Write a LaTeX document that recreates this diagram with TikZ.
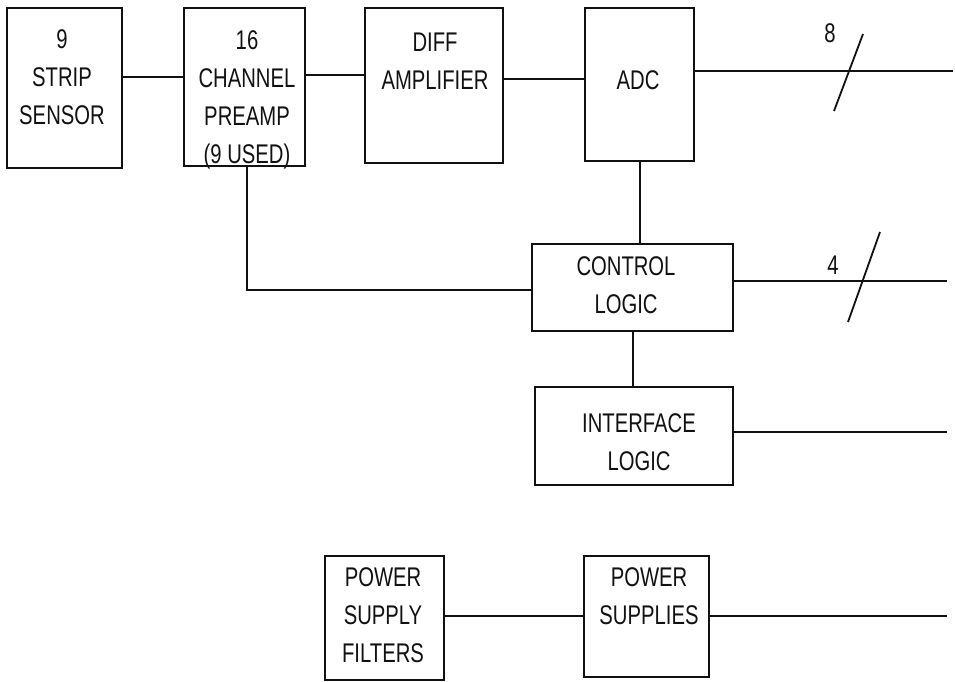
\documentclass[tikz,border=0pt]{standalone}
\usepackage{fontspec}
\setmainfont{Liberation Sans}[FakeStretch=0.75]
\usetikzlibrary{positioning}
\definecolor{inkLine}{HTML}{111111}

\begin{document}
\begin{tikzpicture}[
  x=1pt, y=1pt,
  font=\fontsize{27}{38}\selectfont,
  blk/.style={draw=inkLine, line width=2.6pt, inner sep=0pt, outer sep=0pt},
  lbl/.style={align=center, inner sep=0pt, text=inkLine},
  wire/.style={draw=inkLine, line width=2pt},
  tick/.style={draw=inkLine, line width=1.8pt}
]
\useasboundingbox (0,0) rectangle (955,682);

% signal chain
\node[blk, minimum width=115pt, minimum height=160pt] (sensor) at (64.5,594) {};
\node[blk, minimum width=121pt, minimum height=158pt,
      right=62pt of sensor.north east, anchor=north west] (preamp) {};
\node[blk, minimum width=138pt, minimum height=155pt,
      right=60pt of preamp.north east, anchor=north west] (diff) {};
\node[blk, minimum width=109pt, minimum height=153pt,
      right=82pt of diff.north east, anchor=north west] (adc) {};

\node[blk, minimum width=201pt, minimum height=87pt,
      below=83pt of adc, xshift=-7pt] (control) {};
\node[blk, minimum width=198pt, minimum height=98pt,
      below=56pt of control, xshift=1.5pt] (iface) {};

% power
\node[blk, minimum width=119pt, minimum height=124pt] (filters) at (384.5,64) {};
\node[blk, minimum width=125pt, minimum height=121pt,
      right=140pt of filters.north east, anchor=north west] (supplies) {};

% texts
\node[lbl] (sensorT) at ([shift={(-2.5,10.5)}]sensor.center) {9\\STRIP\\SENSOR};
\node[lbl] (preampT) at ([shift={(2.5,-12.5)}]preamp.center) {16\\CHANNEL\\PREAMP\\(9 USED)};
\node[lbl] (diffT) at ([shift={(1,24.5)}]diff.center) {DIFF\\AMPLIFIER};
\node[lbl] (adcT) at ([shift={(-1.5,4.5)}]adc.center) {ADC};
\node[lbl] (controlT) at ([shift={(-6.5,2.5)}]control.center) {CONTROL\\LOGIC};
\node[lbl] (ifaceT) at ([shift={(5,-6)}]iface.center) {INTERFACE\\LOGIC};
\node[lbl] (filtersT) at ([shift={(-1.5,3)}]filters.center) {POWER\\SUPPLY\\FILTERS};
\node[lbl] (suppliesT) at ([shift={(2.5,20.5)}]supplies.center) {POWER\\SUPPLIES};

% outputs
\coordinate (out8) at (953,611);
\coordinate (out4) at (947,401);
\coordinate (outI) at (947,250);
\coordinate (outP) at (947,65.5);
\coordinate (bus8) at (849,611);
\coordinate (bus4) at (863,401);

\draw[wire] ([yshift=11pt]sensor.east) -- ([yshift=10pt]preamp.west);
\draw[wire] ([yshift=12pt]preamp.east) -- ([yshift=10.5pt]diff.west);
\draw[wire] ([yshift=6.5pt]diff.east) -- ([yshift=5.5pt]adc.west);
\draw[wire] ([yshift=13.5pt]adc.east) -- (out8);
\draw[wire] (adc.south) -- (adc.south |- control.north);
\draw[wire] ([xshift=2.5pt]preamp.south) |- ([yshift=-2.5pt]control.west);
\draw[wire] ([yshift=6.5pt]control.east) -- (out4);
\draw[wire] (control.south) -- (control.south |- iface.north);
\draw[wire] ([yshift=4pt]iface.east) -- (outI);
\draw[wire] (supplies.west -| filters.east) -- (supplies.west);
\draw[wire] (supplies.east) -- (outP);

% bus width marks
\draw[tick] ([shift={(-15,-40)}]bus8) -- ([shift={(14,37)}]bus8);
\draw[tick] ([shift={(-15,-41)}]bus4) -- ([shift={(17,49)}]bus4);
\node[lbl] (w8) at ([shift={(-19,38)}]bus8) {8};
\node[lbl] (w4) at ([shift={(-30,16)}]bus4) {4};
\end{tikzpicture}
\end{document}
